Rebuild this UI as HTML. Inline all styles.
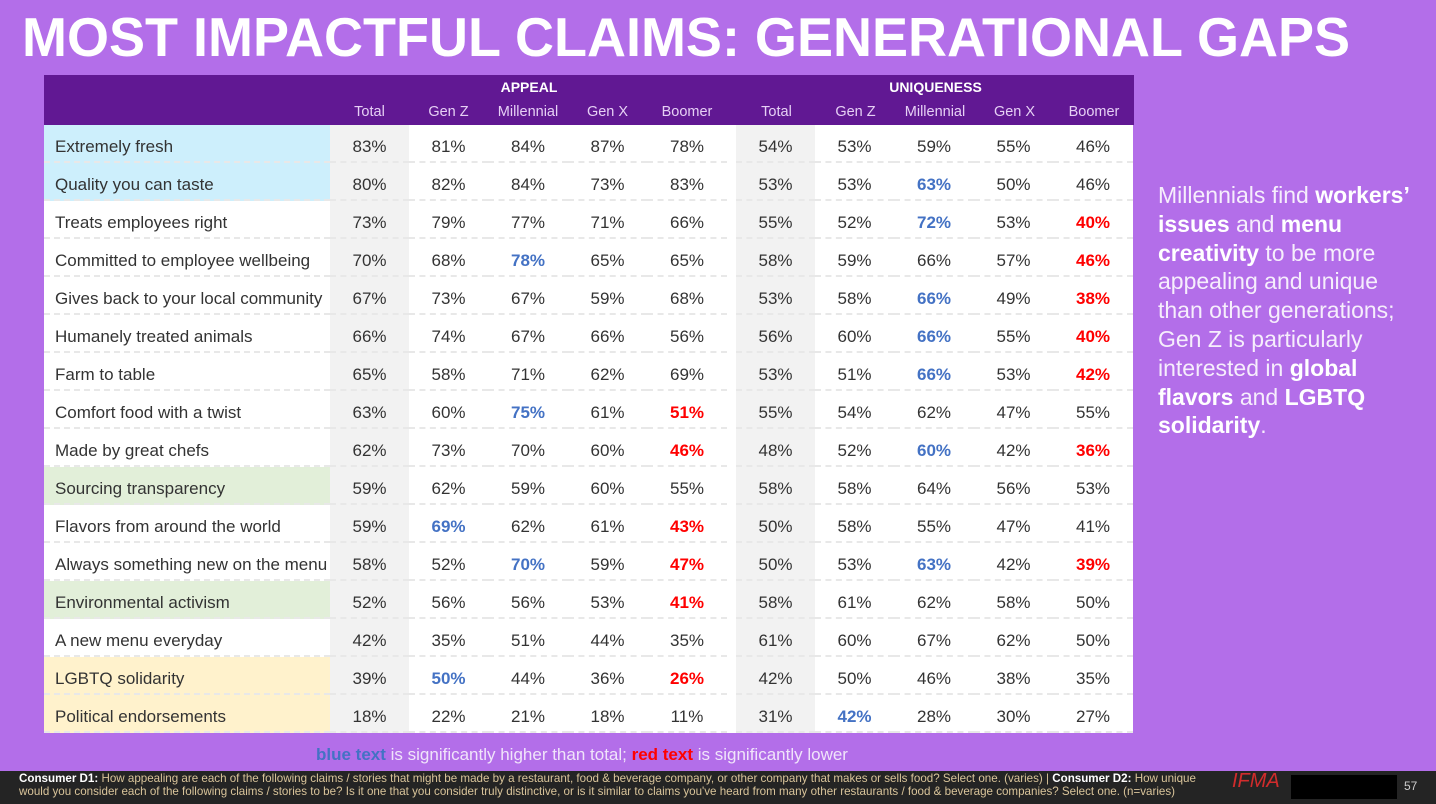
<!DOCTYPE html>
<html><head><meta charset="utf-8"><style>
*{margin:0;padding:0;box-sizing:border-box}
body{width:1436px;height:804px;background:#b36ee9;position:relative;overflow:hidden;font-family:"Liberation Sans",sans-serif}
.hdr{position:absolute;left:44px;top:75px;width:1090px;height:50px;background:#611893}
.h1{position:absolute;top:4px;color:#fff;font-weight:bold;font-size:14px;text-align:center}
.hc{position:absolute;top:29px;color:#e6d0f5;font-size:14.5px;text-align:center}
.tbl{position:absolute;left:44px;top:125px;width:1090px}
.row{display:flex;height:38px}
.row div{height:38px;line-height:43px;font-size:17px;color:#333;text-align:center;border-bottom:2px dashed #e8e8e8;background:#fff}
.row .l{width:286px;text-align:left;padding-left:11px}
.row .t{background:#f2f2f2}
.row .g{width:9px;border-bottom:none}
.w79{width:79px}.w80{width:80px}
.b{color:#4472c4!important;font-weight:bold}
.r{color:#ff0000!important;font-weight:bold}
.cb .l{background:#cdeffc!important}
.cg .l{background:#e2efd9!important}
.cy .l{background:#fff2cc!important}
.side{position:absolute;left:1158px;top:181px;width:270px;color:#f6eefc;font-size:23px;line-height:28.8px;font-weight:300}
.side b{font-weight:900;color:#fff}
.foot{position:absolute;left:0;top:771px;width:1436px;height:33px;background:#242424;color:#d9c49a;font-size:11.6px;line-height:12.5px;padding:2px 0 0 19px;white-space:nowrap}
.foot b{color:#fff}
</style></head><body>
<svg style="position:absolute;left:0;top:0" width="1436" height="70"><text x="22" y="56" textLength="1328" lengthAdjust="spacingAndGlyphs" font-family="Liberation Sans" font-weight="bold" font-size="55" fill="#fff">MOST IMPACTFUL CLAIMS: GENERATIONAL GAPS</text></svg>
<div class="hdr">
<div class="h1" style="left:286px;width:398px">APPEAL</div>
<div class="h1" style="left:693px;width:397px">UNIQUENESS</div>
<div class="hc" style="left:286px;width:79px">Total</div>
<div class="hc" style="left:365px;width:79px">Gen Z</div>
<div class="hc" style="left:444px;width:80px">Millennial</div>
<div class="hc" style="left:524px;width:79px">Gen X</div>
<div class="hc" style="left:603px;width:80px">Boomer</div>
<div class="hc" style="left:693px;width:79px">Total</div>
<div class="hc" style="left:772px;width:79px">Gen Z</div>
<div class="hc" style="left:851px;width:80px">Millennial</div>
<div class="hc" style="left:931px;width:79px">Gen X</div>
<div class="hc" style="left:1010px;width:80px">Boomer</div>
</div>
<div class="tbl">
<div class="row cb"><div class="l">Extremely fresh</div><div class="w79 t">83%</div><div class="w79">81%</div><div class="w80">84%</div><div class="w79">87%</div><div class="w80">78%</div><div class="g"></div><div class="w79 t">54%</div><div class="w79">53%</div><div class="w80">59%</div><div class="w79">55%</div><div class="w80">46%</div></div>
<div class="row cb"><div class="l">Quality you can taste</div><div class="w79 t">80%</div><div class="w79">82%</div><div class="w80">84%</div><div class="w79">73%</div><div class="w80">83%</div><div class="g"></div><div class="w79 t">53%</div><div class="w79">53%</div><div class="w80 b">63%</div><div class="w79">50%</div><div class="w80">46%</div></div>
<div class="row"><div class="l">Treats employees right</div><div class="w79 t">73%</div><div class="w79">79%</div><div class="w80">77%</div><div class="w79">71%</div><div class="w80">66%</div><div class="g"></div><div class="w79 t">55%</div><div class="w79">52%</div><div class="w80 b">72%</div><div class="w79">53%</div><div class="w80 r">40%</div></div>
<div class="row"><div class="l">Committed to employee wellbeing</div><div class="w79 t">70%</div><div class="w79">68%</div><div class="w80 b">78%</div><div class="w79">65%</div><div class="w80">65%</div><div class="g"></div><div class="w79 t">58%</div><div class="w79">59%</div><div class="w80">66%</div><div class="w79">57%</div><div class="w80 r">46%</div></div>
<div class="row"><div class="l">Gives back to your local community</div><div class="w79 t">67%</div><div class="w79">73%</div><div class="w80">67%</div><div class="w79">59%</div><div class="w80">68%</div><div class="g"></div><div class="w79 t">53%</div><div class="w79">58%</div><div class="w80 b">66%</div><div class="w79">49%</div><div class="w80 r">38%</div></div>
<div class="row"><div class="l">Humanely treated animals</div><div class="w79 t">66%</div><div class="w79">74%</div><div class="w80">67%</div><div class="w79">66%</div><div class="w80">56%</div><div class="g"></div><div class="w79 t">56%</div><div class="w79">60%</div><div class="w80 b">66%</div><div class="w79">55%</div><div class="w80 r">40%</div></div>
<div class="row"><div class="l">Farm to table</div><div class="w79 t">65%</div><div class="w79">58%</div><div class="w80">71%</div><div class="w79">62%</div><div class="w80">69%</div><div class="g"></div><div class="w79 t">53%</div><div class="w79">51%</div><div class="w80 b">66%</div><div class="w79">53%</div><div class="w80 r">42%</div></div>
<div class="row"><div class="l">Comfort food with a twist</div><div class="w79 t">63%</div><div class="w79">60%</div><div class="w80 b">75%</div><div class="w79">61%</div><div class="w80 r">51%</div><div class="g"></div><div class="w79 t">55%</div><div class="w79">54%</div><div class="w80">62%</div><div class="w79">47%</div><div class="w80">55%</div></div>
<div class="row"><div class="l">Made by great chefs</div><div class="w79 t">62%</div><div class="w79">73%</div><div class="w80">70%</div><div class="w79">60%</div><div class="w80 r">46%</div><div class="g"></div><div class="w79 t">48%</div><div class="w79">52%</div><div class="w80 b">60%</div><div class="w79">42%</div><div class="w80 r">36%</div></div>
<div class="row cg"><div class="l">Sourcing transparency</div><div class="w79 t">59%</div><div class="w79">62%</div><div class="w80">59%</div><div class="w79">60%</div><div class="w80">55%</div><div class="g"></div><div class="w79 t">58%</div><div class="w79">58%</div><div class="w80">64%</div><div class="w79">56%</div><div class="w80">53%</div></div>
<div class="row"><div class="l">Flavors from around the world</div><div class="w79 t">59%</div><div class="w79 b">69%</div><div class="w80">62%</div><div class="w79">61%</div><div class="w80 r">43%</div><div class="g"></div><div class="w79 t">50%</div><div class="w79">58%</div><div class="w80">55%</div><div class="w79">47%</div><div class="w80">41%</div></div>
<div class="row"><div class="l">Always something new on the menu</div><div class="w79 t">58%</div><div class="w79">52%</div><div class="w80 b">70%</div><div class="w79">59%</div><div class="w80 r">47%</div><div class="g"></div><div class="w79 t">50%</div><div class="w79">53%</div><div class="w80 b">63%</div><div class="w79">42%</div><div class="w80 r">39%</div></div>
<div class="row cg"><div class="l">Environmental activism</div><div class="w79 t">52%</div><div class="w79">56%</div><div class="w80">56%</div><div class="w79">53%</div><div class="w80 r">41%</div><div class="g"></div><div class="w79 t">58%</div><div class="w79">61%</div><div class="w80">62%</div><div class="w79">58%</div><div class="w80">50%</div></div>
<div class="row"><div class="l">A new menu everyday</div><div class="w79 t">42%</div><div class="w79">35%</div><div class="w80">51%</div><div class="w79">44%</div><div class="w80">35%</div><div class="g"></div><div class="w79 t">61%</div><div class="w79">60%</div><div class="w80">67%</div><div class="w79">62%</div><div class="w80">50%</div></div>
<div class="row cy"><div class="l">LGBTQ solidarity</div><div class="w79 t">39%</div><div class="w79 b">50%</div><div class="w80">44%</div><div class="w79">36%</div><div class="w80 r">26%</div><div class="g"></div><div class="w79 t">42%</div><div class="w79">50%</div><div class="w80">46%</div><div class="w79">38%</div><div class="w80">35%</div></div>
<div class="row cy"><div class="l">Political endorsements</div><div class="w79 t">18%</div><div class="w79">22%</div><div class="w80">21%</div><div class="w79">18%</div><div class="w80">11%</div><div class="g"></div><div class="w79 t">31%</div><div class="w79 b">42%</div><div class="w80">28%</div><div class="w79">30%</div><div class="w80">27%</div></div>
</div>
<div class="side">Millennials find <b>workers’ issues</b> and <b>menu creativity</b> to be more appealing and unique than other generations; Gen Z is particularly interested in <b>global flavors</b> and <b>LGBTQ solidarity</b>.</div>
<div style="position:absolute;left:316px;top:745px;font-size:17px;color:#f0e4fa;white-space:nowrap"><b style="color:#4472c4">blue text</b> is significantly higher than total; <b style="color:#ff0000">red text</b> is significantly lower</div>
<div class="foot"><b>Consumer D1:</b> How appealing are each of the following claims / stories that might be made by a restaurant, food &amp; beverage company, or other company that makes or sells food? Select one. (varies) | <b>Consumer D2:</b> How unique<br>would you consider each of the following claims / stories to be? Is it one that you consider truly distinctive, or is it similar to claims you've heard from many other restaurants / food &amp; beverage companies? Select one. (n=varies)
<div style="position:absolute;left:1232px;top:4px;color:#d12c2c;font-size:20px;font-style:italic">IFMA</div>
<div style="position:absolute;left:1291px;top:4px;width:106px;height:24px;background:#000"></div>
<div style="position:absolute;left:1404px;top:9px;color:#ccc;font-size:12px">57</div>
</div>
</body></html>
